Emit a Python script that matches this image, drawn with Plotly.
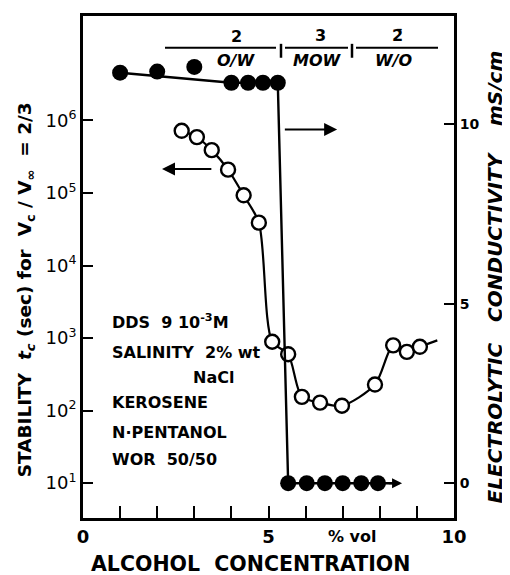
import plotly.graph_objects as go

# ---------------- data ----------------
# electrolytic conductivity (mS/cm, right axis) - filled circles
cond_x = [1.0, 2.0, 3.0, 4.0, 4.45, 4.85, 5.25, 5.53, 6.03, 6.52, 7.0, 7.5, 7.95]
cond_y = [11.44, 11.47, 11.6, 11.16, 11.16, 11.16, 11.16, 0, 0, 0, 0, 0, 0]
# drawn guide line for conductivity
cond_line_x = [1.0, 4.0, 5.25, 5.53, 8.5]
cond_line_y = [11.44, 11.16, 11.16, 0, 0]

# stability t_c (sec, left log axis) - open circles
stab_x = [2.66, 3.07, 3.47, 3.91, 4.33, 4.74, 5.1, 5.53, 5.9, 6.39, 6.98, 7.87, 8.36, 8.73, 9.08]
stab_y = [7.2e5, 5.9e5, 3.9e5, 2.1e5, 9.3e4, 3.9e4, 890, 600, 155, 129, 117, 229, 794, 646, 759]
# drawn guide curve for stability (ends beyond last point)
stab_line_x = stab_x + [9.55]
stab_line_y = stab_y + [930]

x_ticks = [0, 5, 10]
x_ticktext = ["0", "5", "10"]
y_ticks = [1e1, 1e2, 1e3, 1e4, 1e5, 1e6]
y_ticktext = ["10<sup>1</sup>", "10<sup>2</sup>", "10<sup>3</sup>", "10<sup>4</sup>",
              "10<sup>5</sup>", "10<sup>6</sup>"]
y2_ticks = [0, 5, 10]

info_lines = ["DDS  9 10<sup>-3</sup>M", "SALINITY  2% wt", "NaCl", "KEROSENE",
              "N·PENTANOL", "WOR  50/50"]

# ---------------- layout helpers ----------------
# the page adds an 8 px body margin; figure is sized so the plot area
# lands at page pixels L..R, T..B
OFF = 8
W, H = 510 - OFF, 575 - OFF
L, R, T, B = 83, 454, 13, 518


def px(x):
    return (x - L) / (R - L)


def py(y):
    return (B - y) / (B - T)


FONT = "DejaVu Sans"
fig = go.Figure()

fig.add_trace(go.Scatter(x=stab_line_x, y=stab_line_y, mode="lines",
                         line=dict(color="black", width=2.2, shape="spline", smoothing=0.8),
                         hoverinfo="skip", showlegend=False))
fig.add_trace(go.Scatter(x=stab_x, y=stab_y, mode="markers",
                         marker=dict(symbol="circle", size=14, color="white",
                                     line=dict(color="black", width=2.4)),
                         showlegend=False))
fig.add_trace(go.Scatter(x=cond_line_x, y=cond_line_y, mode="lines", yaxis="y2",
                         line=dict(color="black", width=2.4),
                         hoverinfo="skip", showlegend=False))
fig.add_trace(go.Scatter(x=cond_x, y=cond_y, mode="markers", yaxis="y2",
                         marker=dict(symbol="circle", size=16, color="black",
                                     line=dict(color="black", width=0)),
                         showlegend=False))

ann = []
# arrows
ann.append(dict(x=2.13, y=5.33, ax=3.5, ay=5.33, xref="x", yref="y", axref="x", ayref="y",
                text="", showarrow=True, arrowhead=2, arrowsize=1.3, arrowwidth=2,
                arrowcolor="black"))
ann.append(dict(x=6.85, y=9.86, ax=5.4, ay=9.86, xref="x", yref="y2", axref="x", ayref="y2",
                text="", showarrow=True, arrowhead=2, arrowsize=1.3, arrowwidth=2,
                arrowcolor="black"))
ann.append(dict(x=8.6, y=0, ax=8.2, ay=0, xref="x", yref="y2", axref="x", ayref="y2",
                text="", showarrow=True, arrowhead=2, arrowsize=1.0, arrowwidth=2,
                arrowcolor="black"))

# info text block
info_y = [320, 352, 377, 402, 432, 459]
info_x = [110, 110, 191, 110, 110, 110]
for t, xx, yy in zip(info_lines, info_x, info_y):
    ann.append(dict(x=px(xx), y=py(yy), xref="paper", yref="paper", text=t,
                    showarrow=False, xanchor="left", yanchor="middle",
                    font=dict(family=FONT, size=16, color="black", weight="bold")))

# phase labels on top
phase = [("2", 236, 34), ("<i>O/W</i>", 236, 58), ("3", 320, 33), ("<i>MOW</i>", 317, 58),
         ("2\u0304", 397, 33), ("<i>W/O</i>", 393, 58)]
for t, xx, yy in phase:
    ann.append(dict(x=px(xx), y=py(yy), xref="paper", yref="paper", text=t,
                    showarrow=False, xanchor="center", yanchor="middle",
                    font=dict(family=FONT, size=16, color="black", weight="bold")))

# "% vol" unit label
ann.append(dict(x=px(352), y=py(537), xref="paper", yref="paper", text="% vol",
                showarrow=False, xanchor="center", yanchor="middle",
                font=dict(family=FONT, size=16, color="black", weight="bold")))

# axis titles
ann.append(dict(x=px(26), y=py(289), xref="paper", yref="paper",
                text="STABILITY  <i>t<sub>c</sub></i> (sec) for  V<sub>c</sub> / V<sub>∞</sub>  = 2/3",
                textangle=-90, showarrow=False, xanchor="center", yanchor="middle",
                font=dict(family=FONT, size=18.5, color="black", weight="bold")))
ann.append(dict(x=px(495), y=py(276), xref="paper", yref="paper",
                text="<i>ELECTROLYTIC   CONDUCTIVITY    mS/cm</i>",
                textangle=-90, showarrow=False, xanchor="center", yanchor="middle",
                font=dict(family=FONT, size=20, color="black", weight="bold")))
ann.append(dict(x=px(250), y=py(564), xref="paper", yref="paper",
                text="ALCOHOL  CONCENTRATION",
                showarrow=False, xanchor="center", yanchor="middle",
                font=dict(family=FONT, size=20.5, color="black", weight="bold")))

shapes = []
# fraction bars with separators
for x0, x1 in [(165, 276), (285, 348), (356, 438)]:
    shapes.append(dict(type="line", xref="paper", yref="paper", x0=px(x0), x1=px(x1),
                       y0=py(45), y1=py(45), line=dict(color="black", width=2)))
for xs in [281, 352]:
    shapes.append(dict(type="line", xref="paper", yref="paper", x0=px(xs), x1=px(xs),
                       y0=py(41), y1=py(55), line=dict(color="black", width=2.5)))

axis_common = dict(showline=True, linecolor="black", linewidth=3, ticks="inside",
                   tickcolor="black", tickwidth=2, showgrid=False, zeroline=False)

fig.update_layout(
    width=W, height=H,
    margin=dict(l=L - OFF, r=510 - R, t=T - OFF, b=575 - B),
    paper_bgcolor="white", plot_bgcolor="white",
    showlegend=False,
    xaxis=dict(range=[0, 10], tickvals=x_ticks, ticktext=x_ticktext, ticklen=12,
               mirror=True, minor=dict(dtick=1, tick0=0, ticks="inside", ticklen=12,
                                       tickwidth=2, tickcolor="black"),
               tickfont=dict(family=FONT, size=18, color="black", weight="bold"),
               **axis_common),
    yaxis=dict(type="log", range=[0.52, 7.44], tickvals=y_ticks, ticktext=y_ticktext,
               ticklen=10, tickfont=dict(family=FONT, size=18, color="black"),
               **axis_common),
    yaxis2=dict(range=[-0.97, 13.02], tickvals=y2_ticks, ticklen=10, overlaying="y",
                side="right", tickfont=dict(family=FONT, size=14, color="black", weight="bold"),
                **axis_common),
    annotations=ann, shapes=shapes,
)

fig.write_html("out.html")
